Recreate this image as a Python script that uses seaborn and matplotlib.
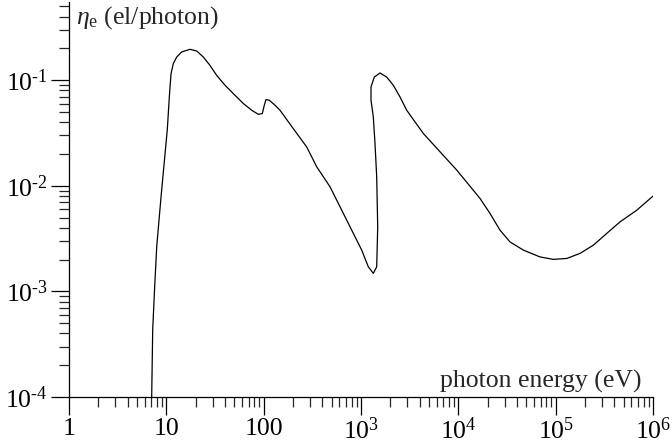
import matplotlib
matplotlib.use('Agg')
import matplotlib.pyplot as plt
import matplotlib.ticker as mticker
import seaborn as sns
import pandas as pd
import numpy as np

# photon energy (eV) and yield (el/photon)
energy = [7.07, 7.24, 7.56, 7.96, 8.82, 10.23, 10.73, 11.17, 11.79, 12.78, 14.38,
          17.5, 20.5, 24.0, 28.1, 32.9, 40.1, 48.8, 61.8, 75.4, 88.1, 96.8,
          101.5, 105.7, 114.3, 130.8, 147.2, 200, 277, 351, 481, 868,
          1017, 1189, 1338, 1450, 1485, 1450, 1393, 1338, 1267, 1267, 1370,
          1567, 1837, 2148, 2518, 2950, 3589, 4366, 9620, 16700, 21170, 26800,
          33960, 46550, 69030, 94600, 130000, 178000, 244000, 335000, 458000,
          681000, 1.0e6]
yield_e = [1.0e-4, 4.31e-4, 1.03e-3, 2.64e-3, 7.85e-3, 0.0341, 0.0693, 0.115,
           0.1435, 0.1656, 0.185, 0.196, 0.189, 0.1656, 0.138, 0.111, 0.0895,
           0.0746, 0.0601, 0.0519, 0.0475, 0.0483, 0.0579, 0.0655, 0.0646,
           0.0579, 0.0519, 0.0351, 0.0233, 0.0151, 0.00977, 0.00329,
           0.00246, 0.00171, 0.00148, 0.00171, 0.00408, 0.0121, 0.0251, 0.0449,
           0.0646, 0.0863, 0.107, 0.117, 0.107, 0.0895, 0.0693, 0.0519, 0.0403,
           0.0313, 0.0141, 0.00759, 0.00547, 0.00380, 0.00294, 0.00246, 0.00212,
           0.00201, 0.00205, 0.00229, 0.00274, 0.00354, 0.00455, 0.00587, 0.00798]

x_ticks = [1, 10, 100, 1e3, 1e4, 1e5, 1e6]
x_labels = ['1', '10', '100', r'$10^{3}$', r'$10^{4}$', r'$10^{5}$', r'$10^{6}$']
y_ticks = [1e-4, 1e-3, 1e-2, 1e-1]
y_labels = [r'$10^{\text{-}4}$', r'$10^{\text{-}3}$', r'$10^{\text{-}2}$', r'$10^{\text{-}1}$']

df = pd.DataFrame({'E': energy, 'eta': yield_e})

sns.set_style('ticks')
plt.rcParams['font.family'] = ['Liberation Serif', 'DejaVu Serif']
plt.rcParams['mathtext.fontset'] = 'custom'
plt.rcParams['mathtext.rm'] = 'Liberation Serif'
plt.rcParams['mathtext.it'] = 'Liberation Serif:italic'
plt.rcParams['mathtext.bf'] = 'Liberation Serif:bold'

fig = plt.figure(figsize=(6.72, 4.45), dpi=100)
ax = fig.add_axes([0.1027, 0.1079, 0.869, 0.8876])

sns.lineplot(data=df, x='E', y='eta', sort=False, estimator=None,
             color='black', linewidth=0.9, ax=ax)

ax.set_xscale('log')
ax.set_yscale('log')
ax.set_xlim(1, 1e6)
ax.set_ylim(1e-4, 0.55)

ax.xaxis.set_major_locator(mticker.FixedLocator(x_ticks))
ax.xaxis.set_major_formatter(mticker.FixedFormatter(x_labels))
ax.xaxis.set_minor_locator(mticker.LogLocator(base=10, subs=np.arange(2, 10), numticks=20))
ax.xaxis.set_minor_formatter(mticker.NullFormatter())
ax.yaxis.set_major_locator(mticker.FixedLocator(y_ticks))
ax.yaxis.set_major_formatter(mticker.FixedFormatter(y_labels))
ax.yaxis.set_minor_locator(mticker.LogLocator(base=10, subs=np.arange(2, 10), numticks=20))
ax.yaxis.set_minor_formatter(mticker.NullFormatter())

ax.tick_params(which='major', direction='out', length=13, width=0.9, labelsize=18.5,
               colors='black', pad=2)
ax.tick_params(which='minor', direction='out', length=7, width=0.9)

for side in ['top', 'right']:
    ax.spines[side].set_visible(False)
for side in ['left', 'bottom']:
    ax.spines[side].set_linewidth(0.9)
    ax.spines[side].set_color('black')

ax.set_xlabel('')
ax.set_ylabel('')

fig.text(0.113, 0.947, r'$\eta_{\rm e}$ (el/photon)', fontsize=18.5, ha='left', va='baseline')
fig.text(0.955, 0.130, 'photon energy (eV)', fontsize=18.5, ha='right', va='baseline')

fig.savefig('out.png', dpi=100)
